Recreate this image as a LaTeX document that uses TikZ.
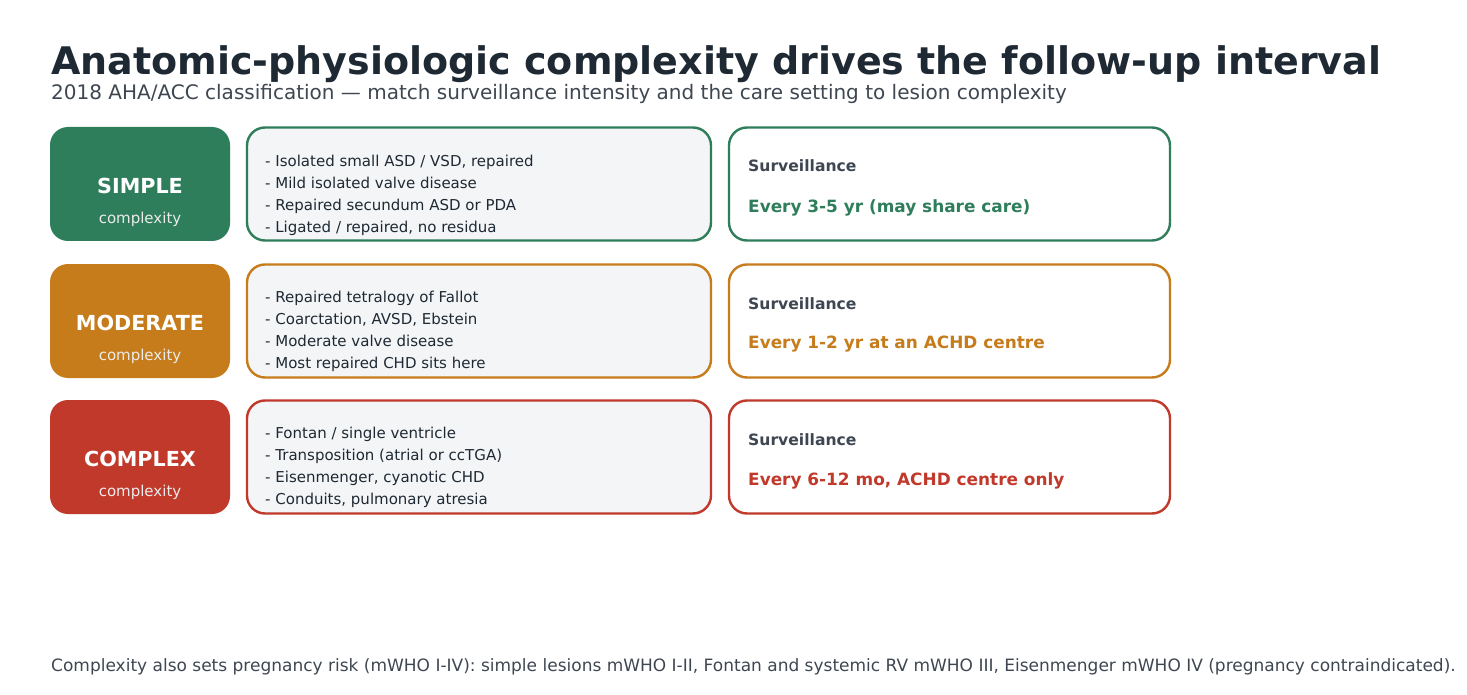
\documentclass[tikz,border=0pt]{standalone}
\usepackage{fontspec}
\setmainfont{DejaVu Sans}

\definecolor{titleink}{HTML}{1F2933}
\definecolor{subink}{HTML}{3E4651}
\definecolor{simplecol}{HTML}{2E7D5B}
\definecolor{moderatecol}{HTML}{C77C1B}
\definecolor{complexcol}{HTML}{C0392B}
\definecolor{listfill}{HTML}{F3F5F7}

\tikzset{
  tag/.style={rounded corners=18pt, fill=#1, minimum width=180pt, minimum height=114pt, inner sep=0pt},
  listbox/.style={rounded corners=18pt, draw=#1, line width=2.4pt, fill=listfill, minimum width=464pt, minimum height=113pt, inner sep=0pt},
  survbox/.style={rounded corners=18pt, draw=#1, line width=2.4pt, fill=white, minimum width=441pt, minimum height=113pt, inner sep=0pt},
  tagname/.style={anchor=base, text=white, font=\fontsize{20.7}{24}\selectfont\bfseries, inner sep=0pt},
  tagsub/.style={anchor=base, text=white!92!black, font=\fontsize{15}{18}\selectfont, inner sep=0pt},
  items/.style={anchor=north west, align=left, text=titleink, font=\fontsize{15}{22}\selectfont, inner sep=0pt},
  survhead/.style={anchor=base west, text=subink, font=\fontsize{15.6}{18}\selectfont\bfseries, inner sep=0pt},
  survval/.style={anchor=base west, text=#1, font=\fontsize{16.9}{20}\selectfont\bfseries, inner sep=0pt}
}

\begin{document}
\begin{tikzpicture}[x=1pt, y=-1pt]
    \useasboundingbox (0,0) rectangle (1467,695);

    % Title
    \node[anchor=base west, inner sep=0pt, text=titleink, font=\fontsize{38}{45}\selectfont\bfseries] (title) at (51,75) {Anatomic-physiologic complexity drives the follow-up interval};
    \node[anchor=base west, inner sep=0pt, text=subink, font=\fontsize{20}{24}\selectfont] (subtitle) at (51,100) {2018 AHA/ACC classification — match surveillance intensity and the care setting to lesion complexity};

    % Simple
    \node[tag=simplecol] (simple) at (140,184) {};
    \node[tagname] (simpleName) at (140,194) {SIMPLE};
    \node[tagsub] (simpleSub) at (140,224) {complexity};
    \node[listbox=simplecol] (simpleList) at (479,184) {};
    \node[items] (simpleItems) at (265,155) {- Isolated small ASD / VSD, repaired\\- Mild isolated valve disease\\- Repaired secundum ASD or PDA\\- Ligated / repaired, no residua};
    \node[survbox=simplecol] (simpleSurv) at (949.5,184) {};
    \node[survhead] (simpleHead) at (748,172) {Surveillance};
    \node[survval=simplecol] (simpleVal) at (748,213) {Every 3-5 yr (may share care)};

    % Moderate
    \node[tag=moderatecol] (moderate) at (140,321) {};
    \node[tagname] (moderateName) at (140,330) {MODERATE};
    \node[tagsub] (moderateSub) at (140,360) {complexity};
    \node[listbox=moderatecol] (moderateList) at (479,321) {};
    \node[items] (moderateItems) at (265,291) {- Repaired tetralogy of Fallot\\- Coarctation, AVSD, Ebstein\\- Moderate valve disease\\- Most repaired CHD sits here};
    \node[survbox=moderatecol] (moderateSurv) at (949.5,321) {};
    \node[survhead] (moderateHead) at (748,309) {Surveillance};
    \node[survval=moderatecol] (moderateVal) at (748,348) {Every 1-2 yr at an ACHD centre};

    % Complex
    \node[tag=complexcol] (complex) at (140,457) {};
    \node[tagname] (complexName) at (140,466) {COMPLEX};
    \node[tagsub] (complexSub) at (140,496) {complexity};
    \node[listbox=complexcol] (complexList) at (479,457) {};
    \node[items] (complexItems) at (265,427) {- Fontan / single ventricle\\- Transposition (atrial or ccTGA)\\- Eisenmenger, cyanotic CHD\\- Conduits, pulmonary atresia};
    \node[survbox=complexcol] (complexSurv) at (949.5,457) {};
    \node[survhead] (complexHead) at (748,445) {Surveillance};
    \node[survval=complexcol] (complexVal) at (748,485) {Every 6-12 mo, ACHD centre only};

    % Footer
    \node[anchor=base west, inner sep=0pt, text=subink, font=\fontsize{17}{20}\selectfont] (footer) at (51,671) {Complexity also sets pregnancy risk (mWHO I-IV): simple lesions mWHO I-II, Fontan and systemic RV mWHO III, Eisenmenger mWHO IV (pregnancy contraindicated).};
\end{tikzpicture}
\end{document}
